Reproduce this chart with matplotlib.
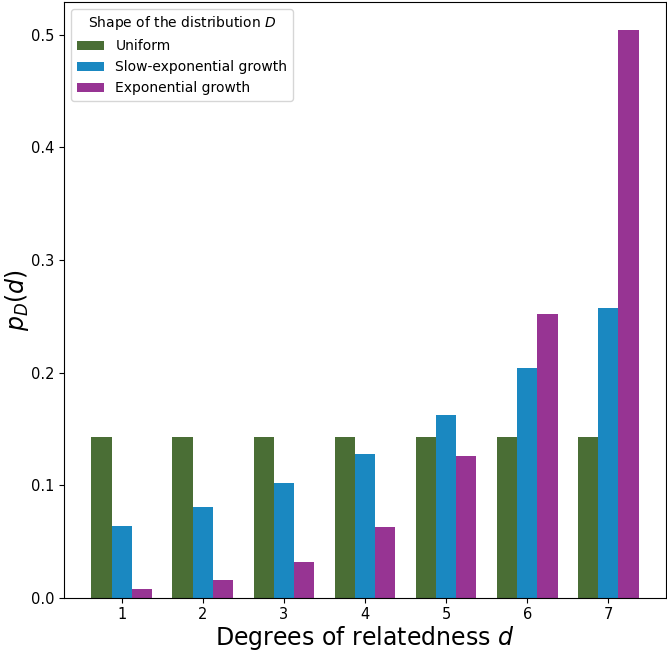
import matplotlib.pyplot as plt
import numpy as np

degrees = [1, 2, 3, 4, 5, 6, 7]
uniform = [0.1429, 0.1429, 0.1429, 0.1429, 0.1429, 0.1429, 0.1429]
slow_exp = [0.064, 0.081, 0.102, 0.128, 0.162, 0.204, 0.257]
fast_exp = [0.0079, 0.0157, 0.0315, 0.063, 0.126, 0.252, 0.504]

labels = ['Uniform', 'Slow-exponential growth', 'Exponential growth']
colors = ['#4a6e35', '#1a88c1', '#973493']

fig = plt.figure(figsize=(6.67, 6.54), dpi=100)
ax = fig.add_axes([0.0960, 0.0860, 0.9025, 0.9110])

x = np.array(degrees)
width = 0.25
for i, (vals, lab, col) in enumerate(zip([uniform, slow_exp, fast_exp], labels, colors)):
    ax.bar(x + (i - 1) * width, vals, width, color=col, label=lab)

ax.set_xticks(degrees)
ax.set_yticks([0.0, 0.1, 0.2, 0.3, 0.4, 0.5])
ax.tick_params(labelsize=10.5)
ax.set_xlabel('Degrees of relatedness $d$', fontsize=17, labelpad=1)
ax.set_ylabel('$p_D(d)$', fontsize=17, labelpad=0)

ax.legend(title='Shape of the distribution $D$', loc='upper left', fontsize=10, title_fontsize=10)

fig.savefig('out.png', dpi=100)
